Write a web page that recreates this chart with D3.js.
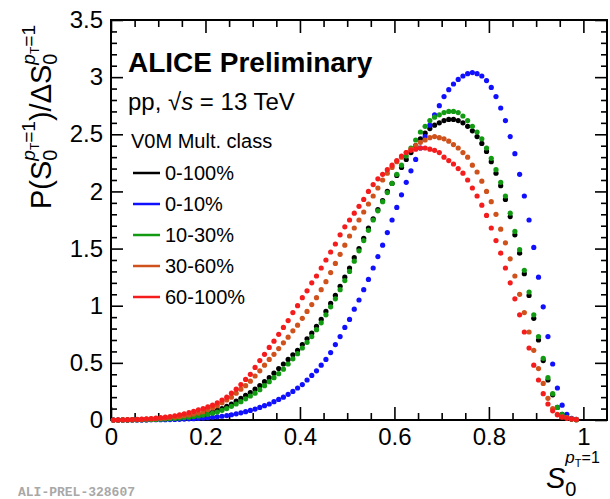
<!DOCTYPE html>
<html>
<head>
<meta charset="utf-8">
<script src="https://cdn.jsdelivr.net/npm/d3@7"></script>
<style>
body { margin: 0; background: #fff; }
</style>
</head>
<body>
<div id="chart"></div>
<script>
// bin centres of S0 (pT=1), histogram with 0.01 wide bins
var s0Bins = d3.range(99).map(function(i) { return +(0.005 + 0.01 * i).toFixed(3); });

// P(S0)/dS0 per multiplicity class
var mult0_100 = [
  0.000, 0.000, 0.001, 0.001, 0.002, 0.002, 0.003, 0.004, 0.005, 0.007,
  0.009, 0.011, 0.014, 0.017, 0.021, 0.026, 0.031, 0.037, 0.044, 0.052,
  0.060, 0.070, 0.085, 0.100, 0.120, 0.140, 0.165, 0.190, 0.215, 0.240,
  0.270, 0.300, 0.335, 0.370, 0.410, 0.450, 0.490, 0.530, 0.570, 0.610,
  0.660, 0.710, 0.760, 0.820, 0.880, 0.950, 1.020, 1.090, 1.170, 1.250,
  1.330, 1.420, 1.500, 1.590, 1.680, 1.760, 1.840, 1.920, 2.000, 2.070,
  2.140, 2.210, 2.280, 2.340, 2.400, 2.460, 2.510, 2.550, 2.580, 2.600,
  2.620, 2.630, 2.630, 2.620, 2.600, 2.570, 2.530, 2.480, 2.420, 2.350,
  2.260, 2.160, 2.050, 1.930, 1.780, 1.620, 1.460, 1.280, 1.090, 0.890,
  0.700, 0.520, 0.350, 0.220, 0.110, 0.050, 0.020, 0.008, 0.003
];
var mult0_10 = [
  0.000, 0.000, 0.000, 0.000, 0.000, 0.001, 0.001, 0.001, 0.002, 0.002,
  0.003, 0.003, 0.004, 0.005, 0.006, 0.008, 0.010, 0.012, 0.014, 0.017,
  0.020, 0.024, 0.028, 0.033, 0.039, 0.046, 0.054, 0.063, 0.073, 0.084,
  0.096, 0.110, 0.125, 0.140, 0.160, 0.180, 0.200, 0.225, 0.250, 0.280,
  0.310, 0.350, 0.390, 0.430, 0.480, 0.530, 0.590, 0.660, 0.730, 0.810,
  0.880, 0.970, 1.050, 1.140, 1.230, 1.330, 1.430, 1.530, 1.640, 1.750,
  1.860, 1.970, 2.080, 2.180, 2.280, 2.380, 2.480, 2.580, 2.670, 2.750,
  2.830, 2.890, 2.940, 2.980, 3.010, 3.030, 3.040, 3.030, 3.010, 2.970,
  2.910, 2.830, 2.730, 2.620, 2.480, 2.330, 2.150, 1.960, 1.750, 1.510,
  1.250, 0.990, 0.730, 0.490, 0.280, 0.130, 0.050, 0.015, 0.005
];
var mult10_30 = [
  0.000, 0.000, 0.000, 0.001, 0.001, 0.002, 0.002, 0.003, 0.004, 0.005,
  0.007, 0.009, 0.011, 0.014, 0.017, 0.021, 0.025, 0.030, 0.036, 0.043,
  0.050, 0.060, 0.070, 0.085, 0.100, 0.120, 0.140, 0.160, 0.185, 0.210,
  0.235, 0.265, 0.300, 0.335, 0.370, 0.405, 0.445, 0.490, 0.535, 0.580,
  0.630, 0.680, 0.730, 0.790, 0.850, 0.920, 0.990, 1.060, 1.140, 1.220,
  1.300, 1.390, 1.480, 1.570, 1.660, 1.750, 1.830, 1.910, 1.990, 2.070,
  2.150, 2.230, 2.310, 2.380, 2.450, 2.520, 2.570, 2.620, 2.650, 2.670,
  2.690, 2.700, 2.700, 2.690, 2.660, 2.620, 2.570, 2.520, 2.460, 2.380,
  2.290, 2.190, 2.080, 1.960, 1.810, 1.650, 1.490, 1.310, 1.120, 0.920,
  0.730, 0.540, 0.370, 0.230, 0.110, 0.050, 0.020, 0.008, 0.003
];
var mult30_60 = [
  0.000, 0.000, 0.001, 0.002, 0.003, 0.004, 0.005, 0.007, 0.009, 0.011,
  0.014, 0.017, 0.021, 0.026, 0.031, 0.037, 0.044, 0.052, 0.061, 0.072,
  0.090, 0.105, 0.125, 0.150, 0.175, 0.200, 0.235, 0.270, 0.300, 0.340,
  0.385, 0.430, 0.480, 0.530, 0.575, 0.625, 0.675, 0.725, 0.780, 0.830,
  0.890, 0.950, 1.010, 1.070, 1.140, 1.210, 1.290, 1.370, 1.450, 1.530,
  1.610, 1.680, 1.750, 1.820, 1.890, 1.960, 2.030, 2.100, 2.160, 2.210,
  2.260, 2.300, 2.340, 2.370, 2.400, 2.430, 2.450, 2.470, 2.480, 2.470,
  2.460, 2.440, 2.410, 2.380, 2.340, 2.300, 2.230, 2.170, 2.090, 2.000,
  1.910, 1.800, 1.670, 1.550, 1.410, 1.260, 1.100, 0.940, 0.770, 0.610,
  0.450, 0.320, 0.190, 0.100, 0.050, 0.030, 0.020, 0.010, 0.005
];
var mult60_100 = [
  0.000, 0.001, 0.002, 0.003, 0.004, 0.006, 0.008, 0.010, 0.013, 0.016,
  0.020, 0.025, 0.030, 0.037, 0.045, 0.054, 0.064, 0.076, 0.089, 0.100,
  0.115, 0.130, 0.150, 0.175, 0.200, 0.235, 0.270, 0.310, 0.355, 0.400,
  0.460, 0.520, 0.575, 0.635, 0.690, 0.750, 0.810, 0.870, 0.940, 1.000,
  1.070, 1.130, 1.200, 1.260, 1.330, 1.400, 1.470, 1.540, 1.620, 1.690,
  1.750, 1.810, 1.870, 1.930, 2.000, 2.060, 2.110, 2.150, 2.190, 2.230,
  2.270, 2.310, 2.340, 2.360, 2.370, 2.380, 2.380, 2.370, 2.360, 2.340,
  2.300, 2.270, 2.240, 2.200, 2.160, 2.100, 2.030, 1.960, 1.880, 1.790,
  1.680, 1.570, 1.460, 1.330, 1.200, 1.060, 0.920, 0.770, 0.630, 0.480,
  0.350, 0.230, 0.140, 0.080, 0.045, 0.025, 0.015, 0.008, 0.004
];

var classLabels = ["0-100%", "0-10%", "10-30%", "30-60%", "60-100%"];
var classColors = ["#000000", "#1010ff", "#129a12", "#cf521c", "#f41c1c"];
var classValues = [mult0_100, mult0_10, mult10_30, mult30_60, mult60_100];

var xTicks = [0, 0.2, 0.4, 0.6, 0.8, 1];
var yTicks = [0, 0.5, 1, 1.5, 2, 2.5, 3, 3.5];

var sans = "Liberation Sans, Arial, Helvetica, sans-serif";

var W = 610, H = 499;
var svg = d3.select("#chart").append("svg")
  .attr("width", W)
  .attr("height", H)
  .attr("font-family", sans);

var x = d3.scaleLinear().domain([0, 1.05]).range([111, 607]);
var y = d3.scaleLinear().domain([0, 3.5]).range([420, 20]);

// minor ticks
var xMinor = d3.range(0, 1.05, 0.05).filter(function(v) { return Math.abs(v * 5 - Math.round(v * 5)) > 1e-6; });
var yMinor = d3.range(0, 3.5, 0.1).filter(function(v) { return Math.abs(v * 2 - Math.round(v * 2)) > 1e-6; });

function tickAxis(axis, tr) {
  var g = svg.append("g")
    .attr("transform", tr)
    .call(axis);
  // d3 sets its own font on the group, override after the call
  g.attr("font-family", sans).attr("font-size", 24);
  g.select(".domain").remove();
  g.selectAll(".tick line").attr("stroke-width", 1.6);
  return g;
}

// bottom
tickAxis(d3.axisBottom(x).tickValues(xMinor).tickSize(-7).tickFormat(""), "translate(0," + y(0) + ")");
tickAxis(d3.axisBottom(x).tickValues(xTicks).tickSize(-13).tickPadding(8)
  .tickFormat(function(d) { return d; }), "translate(0," + y(0) + ")");
// top
tickAxis(d3.axisTop(x).tickValues(xMinor).tickSize(-7).tickFormat(""), "translate(0," + y(3.5) + ")");
tickAxis(d3.axisTop(x).tickValues(xTicks).tickSize(-13).tickFormat(""), "translate(0," + y(3.5) + ")");
// left
tickAxis(d3.axisLeft(y).tickValues(yMinor).tickSize(-6).tickFormat(""), "translate(" + x(0) + ",0)");
tickAxis(d3.axisLeft(y).tickValues(yTicks).tickSize(-12).tickPadding(8)
  .tickFormat(function(d) { return d; }), "translate(" + x(0) + ",0)");
// right
tickAxis(d3.axisRight(y).tickValues(yMinor).tickSize(-6).tickFormat(""), "translate(" + x(1.05) + ",0)");
tickAxis(d3.axisRight(y).tickValues(yTicks).tickSize(-12).tickFormat(""), "translate(" + x(1.05) + ",0)");

// frame
svg.append("rect")
  .attr("x", x(0))
  .attr("y", y(3.5))
  .attr("width", x(1.05) - x(0))
  .attr("height", y(0) - y(3.5))
  .attr("fill", "none")
  .attr("stroke", "#000")
  .attr("stroke-width", 2);

// points
classValues.forEach(function(vals, k) {
  svg.append("g").selectAll("circle")
    .data(vals)
    .enter()
    .append("circle")
      .attr("cx", function(d, i) { return x(s0Bins[i]); })
      .attr("cy", function(d) { return y(d); })
      .attr("r", 2.6)
      .attr("fill", classColors[k]);
});

// text with sub/superscripts, pieces placed one after another
function rich(g, parts, x0, y0) {
  var cx = x0, stackX = 0, stackEnd = 0;
  parts.forEach(function(p) {
    if (p.stackStart) stackX = cx;
    if (p.stackBack) { stackEnd = cx; cx = stackX; }
    var t = g.append("text")
      .attr("x", cx)
      .attr("y", y0 + (p.dy || 0))
      .attr("font-size", p.size)
      .text(p.t);
    if (p.italic) t.attr("font-style", "italic");
    cx += t.node().getComputedTextLength();
    if (p.stackEnd) cx = Math.max(cx, stackEnd);
  });
  return cx - x0;
}

// y title
var yt = svg.append("g").attr("transform", "rotate(-90)");
rich(yt, [
  {t: "P(", size: 29},
  {t: "S", size: 29},
  {t: "0", size: 20, dy: 6, stackStart: true},
  {t: "p", size: 19, dy: -16, italic: true, stackBack: true},
  {t: "T", size: 12, dy: -12},
  {t: "=1", size: 19, dy: -16, stackEnd: true},
  {t: ")/", size: 29},
  {t: "\u0394", size: 29},
  {t: "S", size: 29},
  {t: "0", size: 20, dy: 6, stackStart: true},
  {t: "p", size: 19, dy: -16, italic: true, stackBack: true},
  {t: "T", size: 12, dy: -12},
  {t: "=1", size: 19, dy: -16, stackEnd: true}
], -209, 51);

// x title
var xt = svg.append("g");
rich(xt, [
  {t: "S", size: 29, italic: true},
  {t: "0", size: 20, dy: 8, stackStart: true},
  {t: "p", size: 17, italic: true, dy: -25, stackBack: true},
  {t: "T", size: 11, dy: -21},
  {t: "=1", size: 16, dy: -25, stackEnd: true}
], 546, 488);

// header
svg.append("text")
  .attr("x", 128)
  .attr("y", 72)
  .attr("font-size", 28)
  .attr("font-weight", "bold")
  .text("ALICE Preliminary");

var pp = svg.append("text")
  .attr("x", 128)
  .attr("y", 110)
  .attr("font-size", 24);
pp.append("tspan").text("pp, \u221A");
pp.append("tspan").attr("font-style", "italic").text("s");
pp.append("tspan").text(" = 13 TeV");

// legend
svg.append("text")
  .attr("x", 131)
  .attr("y", 148)
  .attr("font-size", 20)
  .text("V0M Mult. class");

var leg = svg.append("g").selectAll("g")
  .data(classLabels)
  .enter()
  .append("g")
    .attr("transform", function(d, i) { return "translate(133," + (173 + i * 31) + ")"; });
leg.append("line")
  .attr("x1", 0).attr("x2", 27)
  .attr("stroke", function(d, i) { return classColors[i]; })
  .attr("stroke-width", 2.5);
leg.append("text")
  .attr("x", 32)
  .attr("dy", "0.36em")
  .attr("font-size", 20)
  .text(function(d) { return d; });

// figure id
svg.append("text")
  .attr("x", 18)
  .attr("y", 496)
  .attr("font-family", "Liberation Mono, Courier New, monospace")
  .attr("font-weight", "bold")
  .attr("font-size", 13)
  .attr("fill", "#a8a8a8")
  .text("ALI-PREL-328607");
</script>
</body>
</html>
